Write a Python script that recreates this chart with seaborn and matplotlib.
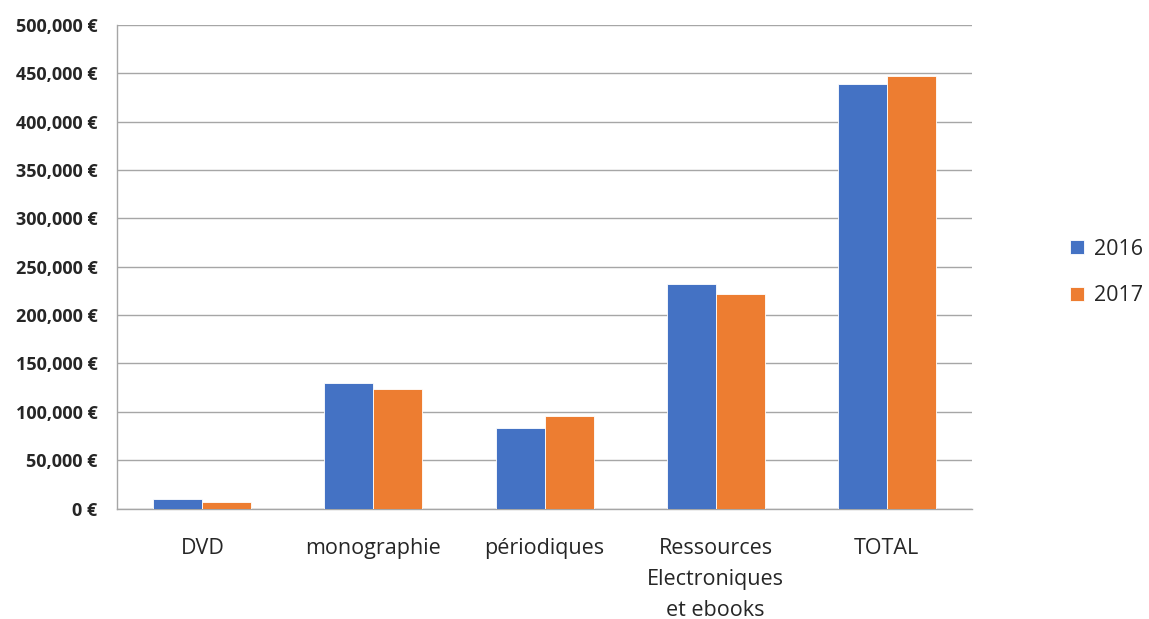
import pandas as pd
import matplotlib.pyplot as plt
import matplotlib.ticker as mticker
import seaborn as sns

# data
categories = ['DVD', 'monographie', 'périodiques', 'Ressources\nElectroniques\net ebooks', 'TOTAL']
years = ['2016', '2017']
values_2016 = [9500, 129500, 83000, 232000, 439500]
values_2017 = [6700, 123300, 95800, 222300, 447200]
colors = ['#4472C4', '#ED7D31']

df = pd.DataFrame({
    'categorie': categories * 2,
    'annee': [years[0]] * len(categories) + [years[1]] * len(categories),
    'montant': values_2016 + values_2017,
})

sns.set_style('white')
plt.rcParams['font.family'] = ['Open Sans', 'DejaVu Sans']

fig = plt.figure(figsize=(11.49, 6.19), dpi=100)
ax = fig.add_axes([0.1018, 0.1785, 0.7442, 0.7811])

sns.barplot(data=df, x='categorie', y='montant', hue='annee', palette=colors,
            saturation=1, width=0.573, gap=0, edgecolor='white', linewidth=0.6,
            ax=ax, zorder=3)

ax.set_ylim(0, 500000)
ax.set_xlim(-0.5, len(categories) - 0.5)
ax.yaxis.set_major_locator(mticker.MultipleLocator(50000))
ax.yaxis.set_major_formatter(mticker.FuncFormatter(lambda v, p: f'{v:,.0f} €'))
ax.grid(axis='y', color='#a6a6a6', linewidth=1, zorder=0)
ax.set_axisbelow(True)

for s in ['top', 'right']:
    ax.spines[s].set_visible(False)
for s in ['left', 'bottom']:
    ax.spines[s].set_color('#a6a6a6')
    ax.spines[s].set_linewidth(1)

ax.tick_params(axis='y', length=6, color='#a6a6a6', labelsize=13, pad=8)
for lbl in ax.get_yticklabels():
    lbl.set_fontweight('bold')
ax.tick_params(axis='x', which='major', length=0, labelsize=15.5, pad=21)
for lbl in ax.get_xticklabels():
    lbl.set_linespacing(1.62)
ax.set_xticks([i + 0.5 for i in range(-1, len(categories))], minor=True)
ax.tick_params(axis='x', which='minor', length=9, color='#a6a6a6')
ax.set_xlabel('')
ax.set_ylabel('')

ax.legend(loc='center left', bbox_to_anchor=(1.092, 0.488), frameon=False,
          fontsize=15.5, handlelength=0.65, handleheight=0.65, handletextpad=0.45,
          labelspacing=1.2)

plt.savefig('out.png', dpi=100)
